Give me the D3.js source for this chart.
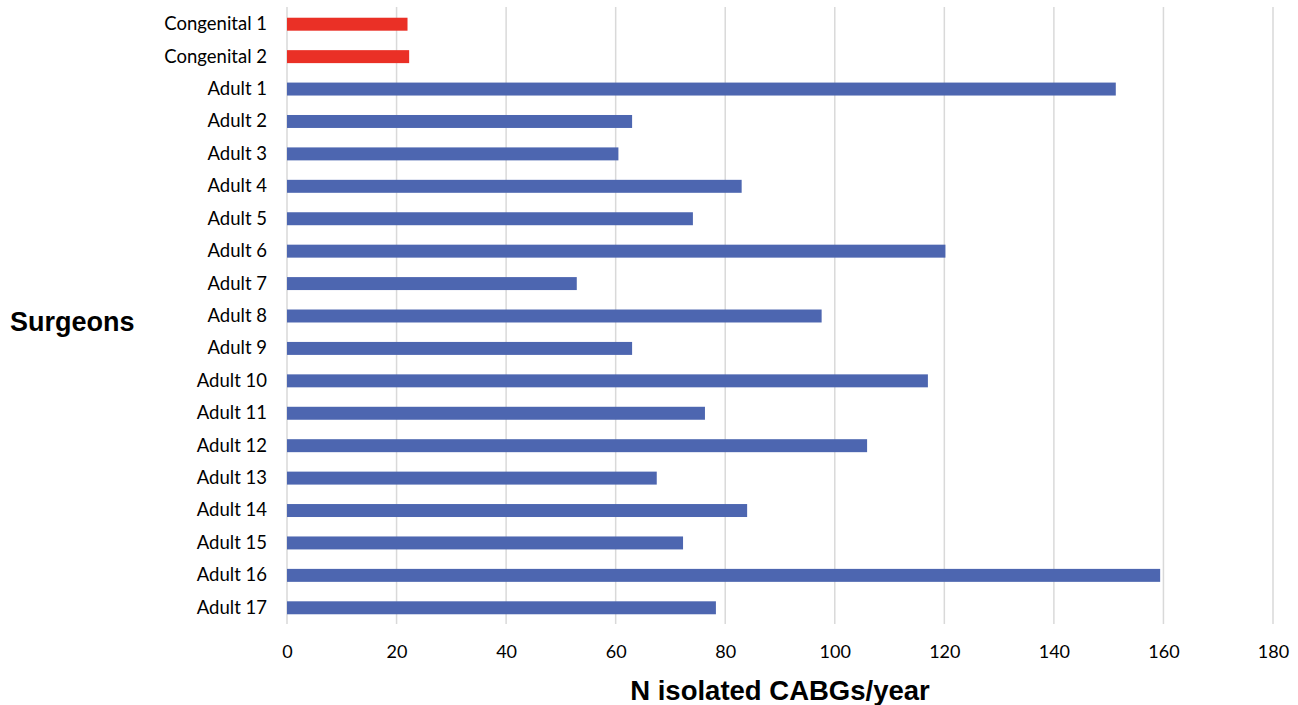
<!DOCTYPE html>
<html>
<head>
<meta charset="utf-8">
<script src="https://cdn.jsdelivr.net/npm/d3@7"></script>
<style>
  body { margin: 0; background: #fff; }
  text { fill: #000; }
</style>
</head>
<body>
<svg id="chart" width="1298" height="705"></svg>
<script>
// Surgeons and their yearly isolated CABG counts
var surgeons = ["Congenital 1", "Congenital 2", "Adult 1", "Adult 2", "Adult 3", "Adult 4",
  "Adult 5", "Adult 6", "Adult 7", "Adult 8", "Adult 9", "Adult 10", "Adult 11",
  "Adult 12", "Adult 13", "Adult 14", "Adult 15", "Adult 16", "Adult 17"];
var cabgs = [22, 22.3, 151.3, 63, 60.5, 83, 74.1, 120.2, 52.9, 97.6, 63, 117, 76.3,
  105.9, 67.5, 84, 72.3, 159.4, 78.3];
var groups = ["congenital", "congenital", "adult", "adult", "adult", "adult", "adult", "adult",
  "adult", "adult", "adult", "adult", "adult", "adult", "adult", "adult", "adult", "adult", "adult"];
var xTicks = [0, 20, 40, 60, 80, 100, 120, 140, 160, 180];

var colors = { congenital: "#EA3026", adult: "#4D66B0" };

var svg = d3.select("#chart");

var x = d3.scaleLinear().domain([0, 180]).range([287, 1273]);
var y = d3.scaleBand().domain(surgeons).range([8, 624]).paddingInner(0.6).paddingOuter(0.3);

// vertical gridlines (the 0 line too)
svg.append("g").selectAll("line")
  .data(xTicks)
  .enter().append("line")
  .attr("x1", function(d) { return x(d); })
  .attr("x2", function(d) { return x(d); })
  .attr("y1", 7)
  .attr("y2", 624)
  .attr("stroke", "#d9d9d9")
  .attr("stroke-width", 1.5);

// bars
svg.append("g").selectAll("rect")
  .data(surgeons)
  .enter().append("rect")
  .attr("x", x(0))
  .attr("y", function(d) { return y(d); })
  .attr("width", function(d, i) { return x(cabgs[i]) - x(0); })
  .attr("height", y.bandwidth())
  .attr("fill", function(d, i) { return colors[groups[i]]; });

// x axis tick labels
var xAxis = d3.axisBottom(x).tickValues(xTicks).tickSize(0).tickPadding(0);
var gx = svg.append("g").attr("transform", "translate(0,645)").call(xAxis);
gx.select(".domain").remove();
gx.selectAll("text")
  .attr("font-family", "Lato, 'Open Sans', sans-serif")
  .attr("font-size", 18)
  .attr("fill", "#000");

// y axis category labels
var yAxis = d3.axisLeft(y).tickSize(0).tickPadding(0);
var gy = svg.append("g").attr("transform", "translate(267,0)").call(yAxis);
gy.select(".domain").remove();
gy.selectAll("text")
  .attr("font-family", "Lato, 'Open Sans', sans-serif")
  .attr("font-size", 18.5)
  .attr("fill", "#000");

// axis titles
svg.append("text")
  .attr("x", 780)
  .attr("y", 700)
  .attr("text-anchor", "middle")
  .attr("font-family", "'Liberation Sans', Arial, sans-serif")
  .attr("font-weight", "bold")
  .attr("font-size", 27.5)
  .text("N isolated CABGs/year");

svg.append("text")
  .attr("x", 10)
  .attr("y", 331)
  .attr("font-family", "'Liberation Sans', Arial, sans-serif")
  .attr("font-weight", "bold")
  .attr("font-size", 27)
  .text("Surgeons");
</script>
</body>
</html>
